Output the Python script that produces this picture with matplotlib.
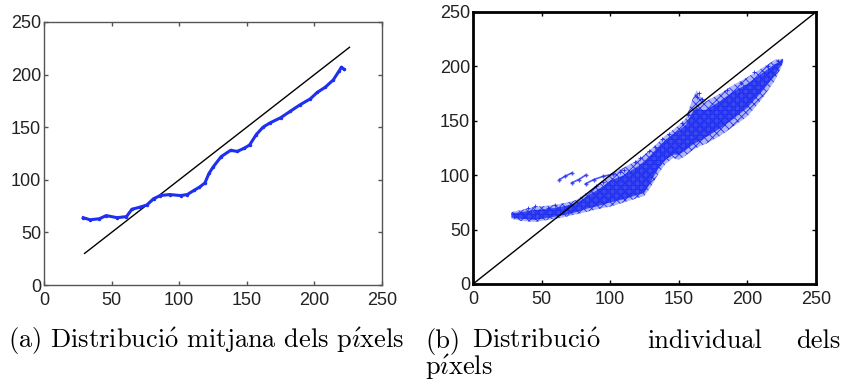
import matplotlib
matplotlib.use("Agg")
import matplotlib.pyplot as plt

plt.rcParams["mathtext.fontset"] = "cm"

# (a) mean pixel distribution: blue curve, black reference line
mean_x = [29, 34, 41, 46, 54, 61, 65, 71, 76, 81, 86, 93, 101, 106, 111, 115, 119, 122,
          125, 131, 138, 143, 148, 152, 157, 162, 167, 175, 182, 189, 197, 202, 208, 214,
          218, 220, 222]
mean_y = [64, 62, 63, 66, 64, 65, 72, 74, 76, 82, 85, 86, 85, 86, 90, 93, 97, 106,
          112, 122, 128, 127, 130, 133, 143, 150, 154, 159, 165, 171, 177, 183, 188, 195,
          203, 207, 205]
ref_a = [30, 226]

# (b) individual pixel distribution: band of points (upper / lower edge) + loose points
band_x = [28, 35, 45, 55, 65, 75, 85, 95, 100, 110, 120, 125, 130, 135, 140, 146, 150, 155,
          160, 163, 166, 170, 180, 190, 200, 210, 220, 226]
band_lo = [60, 58, 57, 59, 61, 64, 67, 70, 71, 75, 79, 81, 90, 101, 110, 116, 114, 118,
           123, 125, 127, 129, 136, 145, 154, 169, 187, 203]
band_hi = [66, 68, 71, 72, 74, 77, 86, 95, 101, 107, 114, 119, 124, 130, 136, 142, 146, 152,
           170, 178, 172, 168, 175, 183, 190, 198, 206, 207]
core_lo = [61, 60, 59, 61, 63, 66, 70, 73, 75, 78, 82, 84, 95, 106, 114, 119, 119, 123,
           128, 130, 132, 135, 143, 152, 162, 176, 192, 204]
core_hi = [65, 66, 68, 69, 71, 74, 82, 90, 95, 100, 108, 113, 119, 126, 132, 138, 141, 146,
           158, 162, 160, 160, 168, 177, 184, 193, 202, 206]
streaks = [
    ([63, 67, 72], [96, 99, 102]),
    ([72, 77, 82], [93, 96, 100]),
    ([82, 88, 95, 102], [92, 96, 99, 101]),
]
loose_x = [40, 45, 55, 60, 90, 95, 107, 110, 118, 122, 128, 133, 138, 143, 152, 157, 163,
           165, 167, 172, 185, 195, 205, 215, 222]
loose_y = [70, 72, 70, 73, 90, 94, 103, 105, 112, 116, 122, 126, 133, 138, 148, 155, 172,
           176, 170, 160, 178, 185, 195, 200, 205]
ref_b = [0, 250]

ticks = [0, 50, 100, 150, 200, 250]
o_ac = r"$\acute{\mathrm{o}}$"
i_ac = r"$\acute{\imath}$"
caption_a = "(a) Distribuci" + o_ac + " mitjana dels p" + i_ac + "xels"
caption_b = ["(b)", "Distribuci" + o_ac, "individual", "dels"]
caption_b2 = "p" + i_ac + "xels"

blue = "#1f2ff0"
tick_font = ["Liberation Sans", "DejaVu Sans"]
cap_font = ["cmr10", "DejaVu Serif"]
cap_size = 19

fig = plt.figure(figsize=(8.42, 3.88), dpi=100)
ax1 = fig.add_axes([44 / 842, 1 - 285 / 388, 338 / 842, 263 / 388])
ax2 = fig.add_axes([473 / 842, 1 - 284 / 388, 343 / 842, 272 / 388])

ax1.plot(ref_a, ref_a, color="black", lw=1.0)
ax1.plot(mean_x, mean_y, color=blue, lw=2.2, marker=".", ms=3)

plt.rcParams["hatch.linewidth"] = 0.6
ax2.fill_between(band_x, band_lo, band_hi, facecolor=(0.12, 0.18, 0.94, 0.35),
                 edgecolor=blue, hatch="xxxx", lw=0)
ax2.fill_between(band_x, core_lo, core_hi, facecolor=(0.12, 0.18, 0.94, 0.8),
                 edgecolor=blue, hatch="++++", lw=0)
for sx, sy in streaks:
    ax2.plot(sx, sy, color=blue, lw=1.2, marker="+", ms=3, alpha=0.8)
ax2.scatter(loose_x, loose_y, color=blue, marker="+", s=8, lw=0.6)
ax2.plot(ref_b, ref_b, color="black", lw=1.0)

for ax, edge, lw in [(ax1, "#555555", 1.0), (ax2, "black", 2.0)]:
    ax.set_xlim(0, 250)
    ax.set_ylim(0, 250)
    ax.set_xticks(ticks)
    ax.set_yticks(ticks)
    ax.tick_params(direction="in", top=True, right=True, length=3, width=1,
                   colors=edge, labelcolor="#222222")
    ax.tick_params(axis="x", pad=5)
    ax.tick_params(axis="y", pad=2)
    for lab in ax.get_xticklabels() + ax.get_yticklabels():
        lab.set_family(tick_font)
        lab.set_fontsize(13)
    for sp in ax.spines.values():
        sp.set_color(edge)
        sp.set_linewidth(lw)

# captions
fig.text(8 / 842, 1 - 348 / 388, caption_a, family=cap_font, fontsize=cap_size,
         va="baseline")
pos_b = [(425, "left"), (472, "left"), (647, "left"), (840, "right")]
for word, (px, ha) in zip(caption_b, pos_b):
    fig.text(px / 842, 1 - 348 / 388, word, family=cap_font, fontsize=cap_size,
             va="baseline", ha=ha)
fig.text(425 / 842, 1 - 375 / 388, caption_b2, family=cap_font, fontsize=cap_size,
         va="baseline")

fig.savefig("out.png", dpi=100)
